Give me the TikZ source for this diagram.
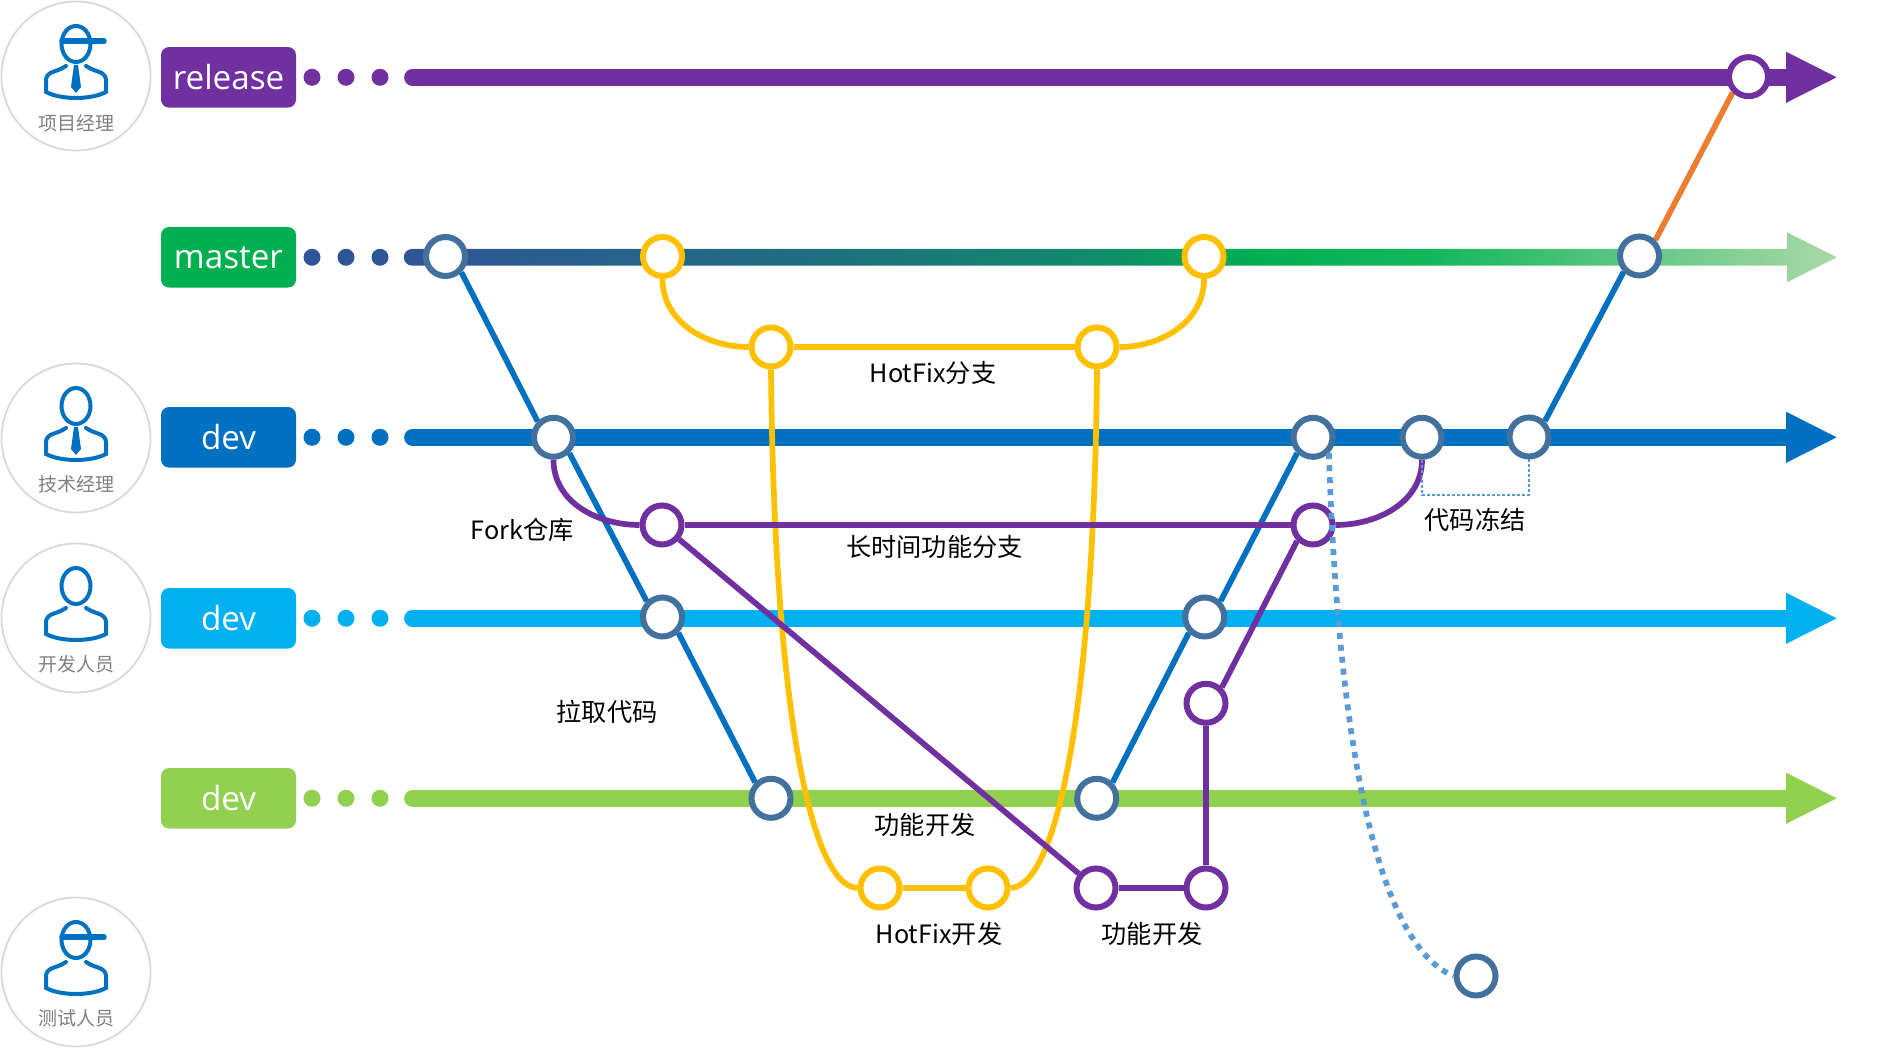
\documentclass[tikz,border=0pt]{standalone}
\usepackage{fontspec}
\setmainfont{Open Sans}
\newfontfamily\cjkfont{Noto Sans CJK SC}
\usetikzlibrary{arrows.meta,backgrounds}
\definecolor{relcolor}{HTML}{7030A0}
\definecolor{mastercolor}{HTML}{00B050}
\definecolor{masterdots}{HTML}{2F5597}
\definecolor{devcolor}{HTML}{0070C0}
\definecolor{devbcolor}{HTML}{00B0F0}
\definecolor{devccolor}{HTML}{92D050}
\definecolor{ringblue}{HTML}{41719C}
\definecolor{hotcolor}{HTML}{FFC000}
\definecolor{mergecolor}{HTML}{ED7D31}
\definecolor{dotblue}{HTML}{5B9BD5}
\pgfdeclarehorizontalshading{master_fade}{100bp}{
  color(0bp)=(masterdots); color(25bp)=(masterdots);
  rgb(39bp)=(0.12,0.43,0.50); rgb(49bp)=(0.07,0.54,0.42);
  color(55bp)=(mastercolor); rgb(61bp)=(0.08,0.72,0.36);
  rgb(68bp)=(0.38,0.78,0.52); rgb(75bp)=(0.67,0.85,0.65); rgb(100bp)=(0.67,0.85,0.65)}
\tikzset{
  commitnode/.style = {circle, draw=ringblue, fill=white, line width=3pt, minimum size=19.5pt, inner sep=0pt},
  hotfix_node/.style = {commitnode, draw=hotcolor},
  feature_node/.style = {commitnode, draw=relcolor},
  branchtag/.style = {rounded corners=4pt, text=white, minimum width=67.5pt, minimum height=30.25pt, inner sep=0pt, font=\fontsize{16.6}{19}\selectfont},
  branch_line/.style = {line width=8.4pt, line cap=round, -{Triangle[length=26pt,width=23.5pt]}},
  link_line/.style = {line width=2.85pt},
  steplabel/.style = {inner sep=0pt, font=\cjkfont\fontsize{12.6}{15}\selectfont},
  person_ring/.style = {circle, draw=black!15, fill=white, line width=0.9pt, minimum size=74.5pt, inner sep=0pt},
  person_text/.style = {inner sep=0pt, text=black!50, font=\cjkfont\fontsize{9.5}{11}\selectfont},
  pics/person_body/.style = {code={
    \draw[devcolor, line width=2pt, line cap=round] (-10,10) .. controls (-15,7) .. (-22,4.5) .. controls (-27,3) and (-30,0) .. (-30,-4) -- (-30,-16) .. controls (-15,-24) and (15,-24) .. (30,-16) -- (30,-4) .. controls (30,0) and (27,3) .. (22,4.5) .. controls (15,7) .. (10,10);
    \draw[devcolor, line width=2pt] (0,32) ellipse (14.5 and 18);
  }},
  pics/person_hat/.style = {code={
    \draw[devcolor, line width=2.75pt, line cap=round] (-14,35) -- (28,35);
  }},
  pics/person_tie/.style = {code={
    \fill[devcolor] (-2,11) -- (2,11) -- (5,-11) -- (0,-17) -- (-5,-11) -- cycle;
  }}
}
\newcommand{\branchhead}[5]{
  \node[branchtag, fill=#3] (tag_#1) at (228.5,#5) {\raisebox{-1.6pt}{#2}};
  \foreach \dotx in {312,346,380}
    \fill[#4] (\dotx,#5) circle (8.5);
}

\begin{document}
\begin{tikzpicture}[x=0.5pt, y=0.5pt]
  \useasboundingbox (0,0) rectangle (1889,1048);

  \node[person_ring] (pm) at (76,972) {};
  \node[person_ring] (tm) at (76,610) {};
  \node[person_ring] (devp) at (76,430) {};
  \node[person_ring] (qa) at (76,76) {};
  \pic at (76,972) {person_body};
  \pic at (76,972) {person_hat};
  \pic at (76,972) {person_tie};
  \pic at (76,610) {person_body};
  \pic at (76,610) {person_tie};
  \pic at (76,430) {person_body};
  \pic at (76,76) {person_body};
  \pic at (76,76) {person_hat};
  \node[person_text] (pm_text) at (76,925) {项目经理};
  \node[person_text] (tm_text) at (76,564) {技术经理};
  \node[person_text] (devp_text) at (76,384) {开发人员};
  \node[person_text] (qa_text) at (76,30) {测试人员};

  \branchhead{release}{release}{relcolor}{relcolor}{970.7}
  \branchhead{master}{master}{mastercolor}{masterdots}{790.7}
  \branchhead{dev_a}{dev}{devcolor}{devcolor}{610.7}
  \branchhead{dev_b}{dev}{devbcolor}{devbcolor}{429.7}
  \branchhead{dev_c}{dev}{devccolor}{devccolor}{249.7}

  \node[commitnode] (m1) at (445.5,791.5) {};
  \node[hotfix_node] (mh1) at (662.5,791.5) {};
  \node[hotfix_node] (mh2) at (1204,791.5) {};
  \node[commitnode] (m2) at (1639.5,792) {};
  \node[feature_node] (r1) at (1748.5,971.3) {};
  \node[hotfix_node] (hf1) at (771,701) {};
  \node[hotfix_node] (hf2) at (1097,701) {};
  \node[commitnode] (d1) at (553.5,610.7) {};
  \node[commitnode] (d2) at (1313,610.7) {};
  \node[commitnode] (d3) at (1422,610.7) {};
  \node[commitnode] (d4) at (1529,611) {};
  \node[feature_node] (fk) at (662,523) {};
  \node[feature_node] (lt) at (1313,523) {};
  \node[commitnode] (c1) at (662.5,431) {};
  \node[commitnode] (c2) at (1204.7,431) {};
  \node[feature_node] (p1) at (1206,344.7) {};
  \node[commitnode] (g1) at (771,249.7) {};
  \node[commitnode] (g2) at (1096.7,249.7) {};
  \node[hotfix_node] (hd1) at (880,160) {};
  \node[hotfix_node] (hd2) at (988,160) {};
  \node[feature_node] (fd1) at (1096,160) {};
  \node[feature_node] (fd2) at (1206,160) {};
  \node[commitnode] (t1) at (1476,72) {};

  \coordinate (rel_start) at (412.5,970.7);
  \coordinate (rel_end) at (1838,970.7);
  \coordinate (dev_a_start) at (412.5,610.7);
  \coordinate (dev_a_end) at (1838,610.7);
  \coordinate (dev_b_start) at (412.5,429.7);
  \coordinate (dev_b_end) at (1838,429.7);
  \coordinate (dev_c_start) at (412.5,249.7);
  \coordinate (dev_c_end) at (1838,249.7);
  \coordinate (freeze_l) at (1422,553);
  \coordinate (freeze_r) at (1529,553);

  \begin{scope}[on background layer]
    \draw[branch_line, relcolor] (rel_start) -- (rel_end);
    \draw[branch_line, devcolor] (dev_a_start) -- (dev_a_end);
    \draw[branch_line, devbcolor] (dev_b_start) -- (dev_b_end);
    \draw[branch_line, devccolor] (dev_c_start) -- (dev_c_end);
    \shade[shading=master_fade] (412.5,799.1) -- (1787,799.1) -- (1787,815.7) -- (1837,790.7) -- (1787,765.7) -- (1787,782.3) -- (412.5,782.3) .. controls (401,782.3) and (401,799.1) .. (412.5,799.1);

    \draw[link_line, devcolor] (m1.-45) -- (d1.135);
    \draw[link_line, devcolor] (d1.-45) -- (c1.135);
    \draw[link_line, devcolor] (c1.-45) -- (g1.135);
    \draw[link_line, devcolor] (g2.45) -- (c2.-135);
    \draw[link_line, devcolor] (c2.45) -- (d2.-135);
    \draw[link_line, devcolor] (d4.45) -- (m2.-135);
    \draw[link_line, mergecolor] (m2.45) -- (r1.-135);

    \draw[link_line, hotcolor] (mh1.south) to[out=-90, in=180] (hf1.west);
    \draw[link_line, hotcolor] (hf1) -- (hf2);
    \draw[link_line, hotcolor] (hf2.east) to[out=0, in=-90] (mh2.south);
    \draw[link_line, hotcolor] (hf1.south) .. controls +(3,-330) and +(-48,2) .. (hd1.west);
    \draw[link_line, hotcolor] (hf2.south) .. controls +(-3,-330) and +(48,2) .. (hd2.east);
    \draw[link_line, hotcolor] (hd1) -- (hd2);

    \draw[link_line, relcolor] (d1.south) to[out=-90, in=180] (fk.west);
    \draw[link_line, relcolor] (fk) -- (lt);
    \draw[link_line, relcolor] (lt.east) to[out=0, in=-90] (d3.south);
    \draw[link_line, relcolor] (fk) -- (fd1);
    \draw[link_line, relcolor] (fd1) -- (fd2);
    \draw[link_line, relcolor] (fd2) -- (p1);
    \draw[link_line, relcolor] (p1.45) -- (lt.-135);

    \draw[dotblue, line width=0.6pt, dash pattern=on 1.5pt off 1pt] (d3.south) -- (freeze_l) -- (freeze_r) -- (d4.south);
  \end{scope}

  \draw[dotblue, line width=2.85pt, dash pattern=on 3pt off 3pt] (d2.-45) .. controls (1340,248) and (1390,98) .. (t1.west);

  \node[steplabel] (lb_hotfix) at (933,675) {HotFix分支};
  \node[steplabel] (lb_fork) at (522,518) {Fork仓库};
  \node[steplabel] (lb_long) at (934.5,501) {长时间功能分支};
  \node[steplabel] (lb_freeze) at (1475,528) {代码冻结};
  \node[steplabel] (lb_pull) at (607,336) {拉取代码};
  \node[steplabel] (lb_func) at (925,223) {功能开发};
  \node[steplabel] (lb_hotdev) at (939,114) {HotFix开发};
  \node[steplabel] (lb_funcb) at (1152,114) {功能开发};
\end{tikzpicture}
\end{document}
